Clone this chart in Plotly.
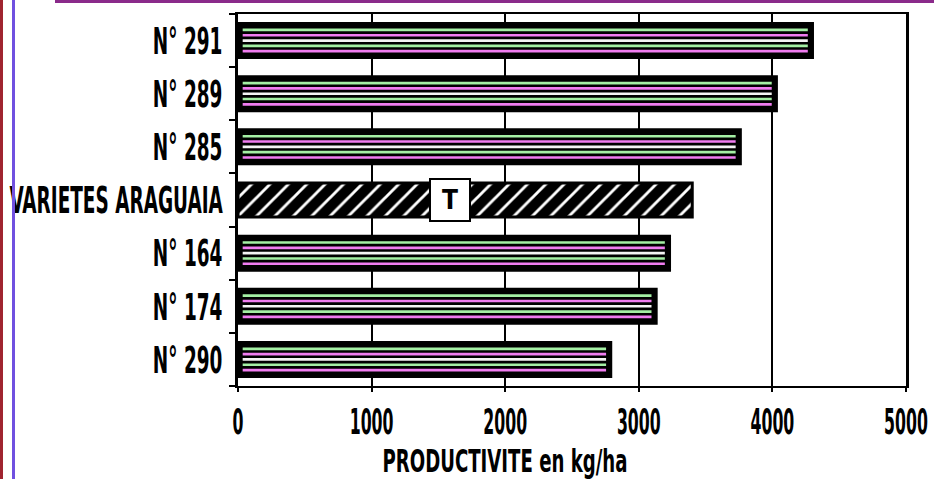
import plotly.graph_objects as go

# Varieties, listed bottom to top as they appear on the category axis
varieties = ["N° 290", "N° 174", "N° 164", "VARIETES ARAGUAIA", "N° 285", "N° 289", "N° 291"]
yields_kg_ha = [2790, 3130, 3230, 3400, 3760, 4030, 4300]
control_variety = "VARIETES ARAGUAIA"
control_mark = "T"
x_ticks = [0, 1000, 2000, 3000, 4000, 5000]
x_title = "PRODUCTIVITE en kg/ha"

FONT = "DejaVu Sans Condensed, DejaVu Sans, sans-serif"
BAR_W = 0.64
STRIPES = ["#f07cf0", "#a4f0a4", "#f4f4f4", "#f07cf0", "#a4f0a4"]

# plot box in pixels (934 x 479 page)
L, R, T, B = 238, 28, 14, 93
PW, PH = 934 - L - R, 479 - T - B


def px_x(p):
    return (p - L) / PW


def px_y(p):
    return (479 - B - p) / PH


striped = [(c, v) for c, v in zip(varieties, yields_kg_ha) if c != control_variety]
s_cats = [c for c, _ in striped]
s_vals = [v for _, v in striped]
ctrl_val = yields_kg_ha[varieties.index(control_variety)]

fig = go.Figure()

# black body of each striped bar
fig.add_trace(go.Bar(
    y=s_cats, x=s_vals, orientation="h", width=BAR_W,
    marker=dict(color="black", line=dict(color="black", width=3)),
    showlegend=False, hoverinfo="skip",
))

# thin coloured stripes running along the bars
n = len(STRIPES)
inner = BAR_W - 0.14
step = inner / n
sw = 0.05
for i, col in enumerate(STRIPES):
    fig.add_trace(go.Bar(
        y=s_cats, x=[v - 70 for v in s_vals], base=[35] * len(s_vals),
        orientation="h", width=sw,
        offset=-inner / 2 + step * i + (step - sw) / 2,
        marker=dict(color=col, line=dict(width=0)),
        showlegend=False, hoverinfo="skip",
    ))

# hatched control bar
fig.add_trace(go.Bar(
    y=[control_variety], x=[ctrl_val], orientation="h", width=BAR_W,
    marker=dict(
        color="black", line=dict(color="black", width=3),
        pattern=dict(shape="/", fgcolor="white", bgcolor="black",
                     size=13, solidity=0.22, fillmode="replace"),
    ),
    showlegend=False, hoverinfo="skip",
))

fig.add_annotation(
    x=1590, y=control_variety, text="<b>%s</b>" % control_mark, showarrow=False,
    font=dict(family=FONT, size=26, color="black"),
    bgcolor="white", bordercolor="black", borderwidth=2, borderpad=2,
    width=34, height=36,
)

# frame decorations around the chart
fig.add_shape(type="line", xref="paper", yref="paper", x0=px_x(55), x1=px_x(934),
              y0=px_y(1.5), y1=px_y(1.5), line=dict(color="#8a2a8a", width=3))
fig.add_shape(type="line", xref="paper", yref="paper", x0=px_x(1.5), x1=px_x(1.5),
              y0=px_y(479), y1=px_y(0), line=dict(color="#a02430", width=3))
fig.add_shape(type="line", xref="paper", yref="paper", x0=px_x(13.5), x1=px_x(13.5),
              y0=px_y(479), y1=px_y(0), line=dict(color="#7050e0", width=3))

fig.update_layout(
    width=934, height=479,
    margin=dict(l=L, r=R, t=T, b=B, autoexpand=False),
    paper_bgcolor="white", plot_bgcolor="white",
    barmode="overlay",
    font=dict(family=FONT, size=34, color="black", weight="bold"),
    xaxis=dict(
        range=[0, 5000], tickvals=x_ticks, ticktext=[str(t) for t in x_ticks],
        showgrid=True, gridcolor="black", gridwidth=2,
        showline=True, linecolor="black", linewidth=2, mirror=True,
        ticks="outside", ticklen=4, tickcolor="black", tickwidth=2,
        zeroline=False, automargin=False, ticklabeloverflow="allow",
        tickfont=dict(family=FONT, size=35, color="black", weight="bold"),
        title=dict(text=x_title, standoff=9,
                   font=dict(family=FONT, size=32, color="black", weight="bold")),
    ),
    yaxis=dict(
        type="category", categoryorder="array", categoryarray=varieties,
        range=[-0.5, len(varieties) - 0.5],
        showline=True, linecolor="black", linewidth=3, mirror=True,
        ticks="outside", ticklen=6, tickwidth=2, tickcolor="black",
        tickson="boundaries", showgrid=False, ticklabelstandoff=5,
        automargin=False, ticklabeloverflow="allow",
        tickfont=dict(family=FONT, size=38, color="black", weight="bold"),
    ),
)

# narrow, tall lettering for the axis labels
css = (
    "g.ytick{transform:scaleX(0.54);transform-box:fill-box;transform-origin:100% 50%;}"
    "g.xtick{transform:scaleX(0.5);transform-box:fill-box;transform-origin:50% 50%;}"
    "g.g-xtitle{transform:translateX(-67px) scaleX(0.63);transform-box:fill-box;"
    "transform-origin:50% 50%;}"
)
post = ("var s=document.createElement('style');s.textContent='%s';"
        "document.head.appendChild(s);" % css)

fig.write_html("out.html", post_script=post)
